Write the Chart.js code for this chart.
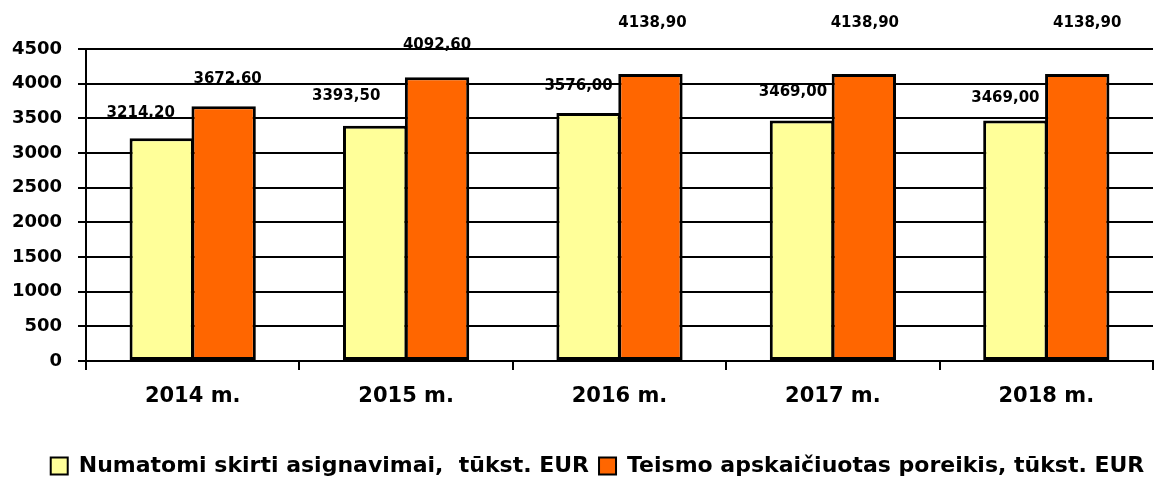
<!DOCTYPE html>
<html>
<head>
<meta charset="utf-8">
<script src="https://cdn.jsdelivr.net/npm/chart.js@4/dist/chart.umd.min.js"></script>
<style>
  html, body { margin: 0; padding: 0; background: #fff; }
  #wrap { width: 1162px; height: 494px; }
</style>
</head>
<body>
<div id="wrap"><canvas id="chart" width="1162" height="494"></canvas></div>
<script>
const years = ['2014 m.', '2015 m.', '2016 m.', '2017 m.', '2018 m.'];
const planned = [3214.2, 3393.5, 3576.0, 3469.0, 3469.0];
const needed = [3672.6, 4092.6, 4138.9, 4138.9, 4138.9];
const yTicks = [0, 500, 1000, 1500, 2000, 2500, 3000, 3500, 4000, 4500];

const seriesNames = ['Numatomi skirti asignavimai,  tūkst. EUR', 'Teismo apskaičiuotas poreikis, tūkst. EUR'];

// manual label placement (px offsets from bar top centre), like the original
const labelShift = [
    [[-21, -25], [-29, -30], [-10, -27], [-9, -28], [-10, -22]],
    [[4, -27], [0, -32], [2, -51], [1, -51], [10, -51]]
];

const FONT = "'DejaVu Sans', sans-serif";

const valueLabels = {
    id: 'valueLabels',
    afterLayout(chart) {
        // legend in the original sits a bit right of centre
        chart.legend.left += 21;
        chart.legend.right += 21;
    },
    afterDatasetsDraw(chart) {
        const ctx = chart.ctx;
        ctx.save();
        ctx.font = `bold 15px ${FONT}`;
        ctx.fillStyle = '#000';
        ctx.textAlign = 'center';
        ctx.textBaseline = 'middle';
        chart.data.datasets.forEach((ds, di) => {
            const meta = chart.getDatasetMeta(di);
            meta.data.forEach((bar, i) => {
                const [dx, dy] = labelShift[di][i];
                const txt = ds.data[i].toFixed(2).replace('.', ',');
                ctx.fillText(txt, bar.x + dx, bar.y + dy);
            });
        });
        ctx.restore();
    }
};

new Chart(document.getElementById('chart'), {
    type: 'bar',
    data: {
        labels: years,
        datasets: [
            {
                label: seriesNames[0],
                data: planned,
                backgroundColor: '#FFFF99',
                borderColor: '#000',
                borderWidth: 3,
                borderSkipped: false
            },
            {
                label: seriesNames[1],
                data: needed,
                backgroundColor: '#FF6600',
                borderColor: '#000',
                borderWidth: 3,
                borderSkipped: false
            }
        ]
    },
    options: {
        responsive: false,
        animation: false,
        devicePixelRatio: 1,
        layout: { padding: { top: 49, left: 0, right: 9, bottom: 7 } },
        datasets: { bar: { barPercentage: 1.04, categoryPercentage: 0.58 } },
        plugins: {
            tooltip: { enabled: false },
            legend: {
                position: 'bottom',
                labels: {
                    color: '#000',
                    font: { family: FONT, size: 22, weight: 'bold' },
                    boxWidth: 17,
                    boxHeight: 17,
                    padding: 10,
                    generateLabels(chart) {
                        return chart.data.datasets.map((ds, i) => ({
                            text: ds.label,
                            fillStyle: ds.backgroundColor,
                            strokeStyle: '#000',
                            lineWidth: 2,
                            datasetIndex: i
                        }));
                    }
                }
            }
        },
        scales: {
            x: {
                afterFit: (s) => { s.height = 84; },
                grid: {
                    offset: true,
                    drawOnChartArea: false,
                    drawTicks: true,
                    tickLength: 9,
                    color: '#000',
                    lineWidth: 2
                },
                border: { display: true, color: '#000', width: 2 },
                ticks: {
                    color: '#000',
                    padding: 14,
                    font: { family: FONT, size: 21, weight: 'bold' }
                }
            },
            y: {
                min: 0,
                max: 4500,
                afterFit: (s) => { s.width = 86; },
                afterBuildTicks: (s) => { s.ticks = yTicks.map((v) => ({ value: v })); },
                grid: {
                    color: '#000',
                    lineWidth: 2,
                    drawTicks: true,
                    tickLength: 8
                },
                border: { display: true, color: '#000', width: 2 },
                ticks: {
                    color: '#000',
                    padding: 16,
                    font: { family: FONT, size: 18, weight: 'bold' },
                    callback: (v) => String(v)
                }
            }
        }
    },
    plugins: [valueLabels]
});
</script>
</body>
</html>
